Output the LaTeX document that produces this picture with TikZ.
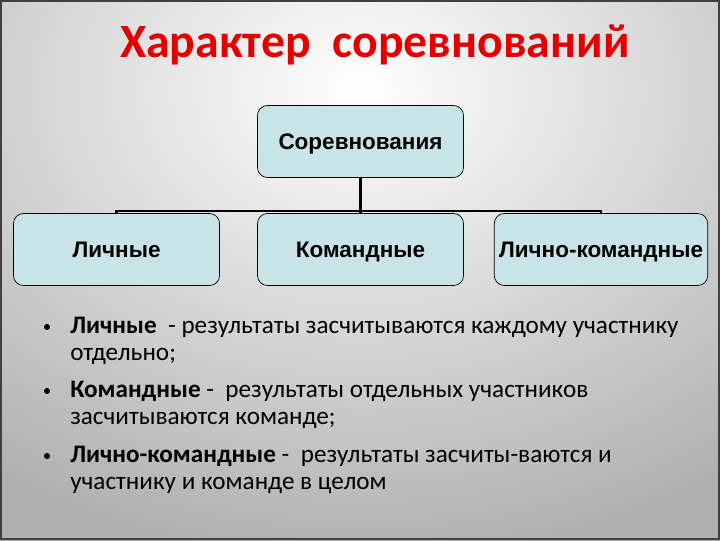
\documentclass[tikz,border=0pt]{standalone}
\usepackage{fontspec}
\setmainfont{Carlito}
\newfontfamily\boxfont{Liberation Sans}
\usetikzlibrary{positioning}
\definecolor{boxcyan}{HTML}{C8E4E7}
\definecolor{titlered}{HTML}{E50000}
\tikzstyle{box} = [rectangle, rounded corners=10*0.025cm,
minimum width=5.15cm,
minimum height=1.8cm,
text centered,
text height=12pt, text depth=0pt,
fill=boxcyan,
draw=black, line width=0.5pt,
font=\boxfont\bfseries\fontsize{16}{18}\selectfont]
\tikzstyle{line} = [line width=1.5pt]
\tikzstyle{item} = [anchor=base west, align=left, inner sep=0pt,
font=\fontsize{17.9}{18.6}\selectfont]
\tikzstyle{dot} = [circle, fill=black, inner sep=0pt, minimum size=6*0.025cm]

\begin{document}
\begin{tikzpicture}[x=0.025cm, y=-0.025cm]

        % --- Fondo ---
        \useasboundingbox (0,0) rectangle (720,540);
        \fill[gray!62] (0,0) rectangle (720,540);
        \shade[inner color=white, outer color=gray!62] (-260,-380) rectangle (980,560);
        \draw[black!75, line width=2pt] (1,1) rectangle (719,539);

        % --- Título ---
        \node (title) [text=titlered, font=\bfseries\fontsize{34}{36}\selectfont] at (375,45) {Характер\ \ соревнований};

        % --- Nodos ---
        \node (comp) [box] at (360.5,141.5) {Соревнования};
        \node (team) [box] at (360.5,249.5) {Командные};
        \node (pers) [box] at (116.5,249.5) {Личные};
        \node (mix) [box] at (601,249.5) {Лично-командные};
        \coordinate (hub) at (360.5,211);

        % --- Conexiones ---
        \draw [line] (comp) -- (hub);
        \draw [line] (hub) -| (pers);
        \draw [line] (hub) -| (mix);
        \draw [line] (hub) -- (team);

        % --- Lista ---
        \node (t1) [item] at (70,360) {\textbf{Личные} \ - результаты засчитываются каждому участнику\\отдельно;};
        \node (t2) [item] at (70,424) {\textbf{Командные} - \ результаты отдельных участников\\засчитываются команде;};
        \node (t3) [item] at (70,489) {\textbf{Лично-командные} - \ результаты засчиты-ваются и\\участнику и команде в целом};
        \node (b1) [dot] at (47,327) {};
        \node (b2) [dot] at (47,391) {};
        \node (b3) [dot] at (47,456) {};

\end{tikzpicture}
\end{document}
